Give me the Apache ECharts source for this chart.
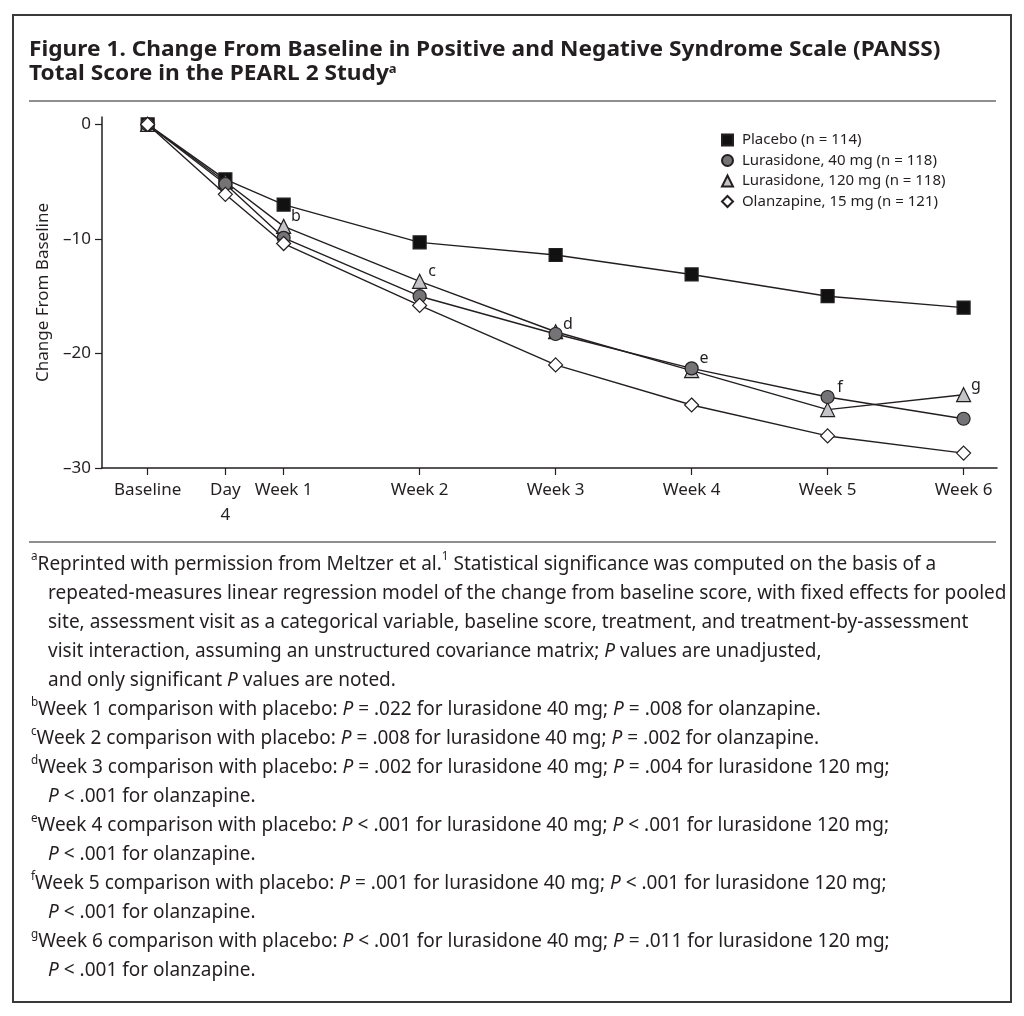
<!DOCTYPE html>
<html>
<head>
<meta charset="utf-8">
<script src="https://cdn.jsdelivr.net/npm/echarts@6/dist/echarts.min.js"></script>
<style>
html,body{margin:0;padding:0;background:#fff;}
#chart{width:1024px;height:1016px;}
</style>
</head>
<body>
<div id="chart"></div>
<script>
// ---- data ----
var days = [0, 4, 7, 14, 21, 28, 35, 42];
var tickLabels = ['Baseline', 'Day\n4', 'Week 1', 'Week 2', 'Week 3', 'Week 4', 'Week 5', 'Week 6'];
var yTicks = [-30, -20, -10, 0];
var seriesNames = ['Placebo (n = 114)', 'Lurasidone, 40 mg (n = 118)', 'Lurasidone, 120 mg (n = 118)', 'Olanzapine, 15 mg (n = 121)'];
var placebo = [0, -4.8, -7.0, -10.3, -11.4, -13.1, -15.0, -16.0];
var lurasidone40 = [0, -5.2, -9.9, -15.0, -18.3, -21.3, -23.8, -25.7];
var lurasidone120 = [0, -5.0, -8.9, -13.7, -18.1, -21.5, -24.9, -23.6];
var olanzapine = [0, -6.1, -10.4, -15.8, -21.0, -24.5, -27.2, -28.7];
var annotLetters = ['b', 'c', 'd', 'e', 'f', 'g'];
var annotSeries = [2, 2, 1, 1, 1, 2];   // index into series list
var annotPoint = [2, 3, 4, 5, 6, 7];    // index into days

var titleLines = [
  'Figure 1. Change From Baseline in Positive and Negative Syndrome Scale (PANSS)',
  'Total Score in the PEARL 2 Study{sup|a}'
];
var footLines = [
  [0, '{sup|a}Reprinted with permission from Meltzer et al.{sup|1} Statistical significance was computed on the basis of a'],
  [1, 'repeated-measures linear regression model of the change from baseline score, with fixed effects for pooled'],
  [1, 'site, assessment visit as a categorical variable, baseline score, treatment, and treatment-by-assessment'],
  [1, 'visit interaction, assuming an unstructured covariance matrix; {it|P} values are unadjusted,'],
  [1, 'and only significant {it|P} values are noted.'],
  [0, '{sup|b}Week 1 comparison with placebo: {it|P} = .022 for lurasidone 40 mg; {it|P} = .008 for olanzapine.'],
  [0, '{sup|c}Week 2 comparison with placebo: {it|P} = .008 for lurasidone 40 mg; {it|P} = .002 for olanzapine.'],
  [0, '{sup|d}Week 3 comparison with placebo: {it|P} = .002 for lurasidone 40 mg; {it|P} = .004 for lurasidone 120 mg;'],
  [1, '{it|P} < .001 for olanzapine.'],
  [0, '{sup|e}Week 4 comparison with placebo: {it|P} < .001 for lurasidone 40 mg; {it|P} < .001 for lurasidone 120 mg;'],
  [1, '{it|P} < .001 for olanzapine.'],
  [0, '{sup|f}Week 5 comparison with placebo: {it|P} = .001 for lurasidone 40 mg; {it|P} < .001 for lurasidone 120 mg;'],
  [1, '{it|P} < .001 for olanzapine.'],
  [0, '{sup|g}Week 6 comparison with placebo: {it|P} < .001 for lurasidone 40 mg; {it|P} = .011 for lurasidone 120 mg;'],
  [1, '{it|P} < .001 for olanzapine.']
];

// ---- styles ----
var INK = '#231f20';
var FONT = '"Noto Sans", "Open Sans", sans-serif';
var seriesValues = [placebo, lurasidone40, lurasidone120, olanzapine];
var symbols = ['rect', 'circle', 'triangle', 'diamond'];
var fills = ['#111111', '#747476', '#c4c4c6', '#ffffff'];
var zs = [2, 4, 3, 5];
var symSizes = [13, 13, 14, 14];

function buildSeries(i) {
  var vals = seriesValues[i];
  var data = days.map(function (d, k) {
    var item = { value: [d, vals[k]] };
    for (var a = 0; a < annotLetters.length; a++) {
      if (annotSeries[a] === i && annotPoint[a] === k) {
        item.label = {
          show: true, formatter: annotLetters[a],
          position: [symSizes[i] / 2 + 13, symSizes[i] / 2 - 9],
          align: 'center', verticalAlign: 'middle',
          fontFamily: FONT, fontSize: 16, color: INK
        };
      }
    }
    return item;
  });
  return {
    name: seriesNames[i], type: 'line', data: data, z: zs[i],
    symbol: symbols[i], symbolSize: symSizes[i], showAllSymbol: true,
    lineStyle: { color: INK, width: 1.4 },
    itemStyle: { color: fills[i], borderColor: INK, borderWidth: 1.2, opacity: 1 },
    emphasis: { disabled: true },
    label: { show: false },
    animation: false
  };
}

var graphics = [];
graphics.push({ type: 'rect', shape: { x: 13, y: 15, width: 998, height: 987 }, style: { fill: 'none', stroke: '#3a3a3a', lineWidth: 2 }, silent: true });
graphics.push({ type: 'line', shape: { x1: 29, y1: 101, x2: 996, y2: 101 }, style: { stroke: INK, lineWidth: 1.2 }, silent: true });
graphics.push({ type: 'line', shape: { x1: 29, y1: 542, x2: 996, y2: 542 }, style: { stroke: INK, lineWidth: 1.2 }, silent: true });

var titleY = [50, 74];
titleLines.forEach(function (t, i) {
  graphics.push({
    type: 'text', x: 29, y: titleY[i], scaleX: 1.08, silent: true,
    style: {
      text: t, fill: INK, font: 'bold 21px ' + FONT, verticalAlign: 'middle',
      rich: { sup: { fontSize: 12, fontWeight: 'bold', fontFamily: FONT, verticalAlign: 'top', lineHeight: 10, fill: INK } }
    }
  });
});

var footTop = 564, footStep = 29.05;
footLines.forEach(function (ln, i) {
  var cont = ln[0] === 1;
  graphics.push({
    type: 'text', x: cont ? 48 : 31, y: footTop + i * footStep, scaleX: 0.975, silent: true,
    style: {
      text: ln[1], fill: INK, fontFamily: FONT, fontSize: 19.5, verticalAlign: 'middle', lineHeight: 26,
      rich: {
        sup: { fontSize: 12, fontFamily: FONT, verticalAlign: 'top', lineHeight: 12, fill: INK },
        it: { fontSize: 19.5, fontFamily: FONT, fontStyle: 'italic', lineHeight: 26, fill: INK }
      }
    }
  });
});

var option = {
  backgroundColor: '#ffffff',
  animation: false,
  grid: { left: 102, right: 27, top: 117, bottom: 548, containLabel: false },
  legend: {
    orient: 'vertical', left: 716, top: 125,
    itemWidth: 11, itemHeight: 11, itemGap: 0.5,
    selectedMode: false,
    formatter: function (n) { return ' ' + n; },
    textStyle: { fontFamily: FONT, fontSize: 15, color: INK, lineHeight: 20 },
    data: [
      { name: seriesNames[0], icon: 'rect' },
      { name: seriesNames[1], icon: 'circle' },
      { name: seriesNames[2], icon: 'triangle' },
      { name: seriesNames[3], icon: 'diamond' }
    ]
  },
  xAxis: {
    type: 'value', min: -2.35, max: 43.72,
    axisLine: { show: true, onZero: false, lineStyle: { color: INK, width: 1.5 } },
    axisTick: { show: true, length: 7, lineStyle: { color: INK, width: 1.2 }, customValues: days },
    axisLabel: {
      customValues: days, margin: 10, fontFamily: FONT, fontSize: 17, color: INK, lineHeight: 25,
      formatter: function (v) { var k = days.indexOf(v); return k >= 0 ? tickLabels[k] : ''; }
    },
    splitLine: { show: false }
  },
  yAxis: {
    type: 'value', min: -30, max: 0.65,
    name: 'Change From Baseline', nameLocation: 'middle', nameRotate: 90, nameGap: 50,
    nameTextStyle: { fontFamily: FONT, fontSize: 17, color: INK },
    axisLine: { show: true, onZero: false, lineStyle: { color: INK, width: 1.5 } },
    axisTick: { show: true, length: 7, lineStyle: { color: INK, width: 1.2 }, customValues: yTicks },
    axisLabel: {
      customValues: yTicks, margin: 11, fontFamily: FONT, fontSize: 17, color: INK,
      formatter: function (v) { return v === 0 ? '0' : (v < 0 ? '\u2013' + Math.abs(v) : String(v)); }
    },
    splitLine: { show: false }
  },
  series: [0, 1, 2, 3].map(buildSeries),
  graphic: graphics
};

var chart = echarts.init(document.getElementById('chart'), null, { renderer: 'canvas' });
chart.setOption(option);
</script>
</body>
</html>
